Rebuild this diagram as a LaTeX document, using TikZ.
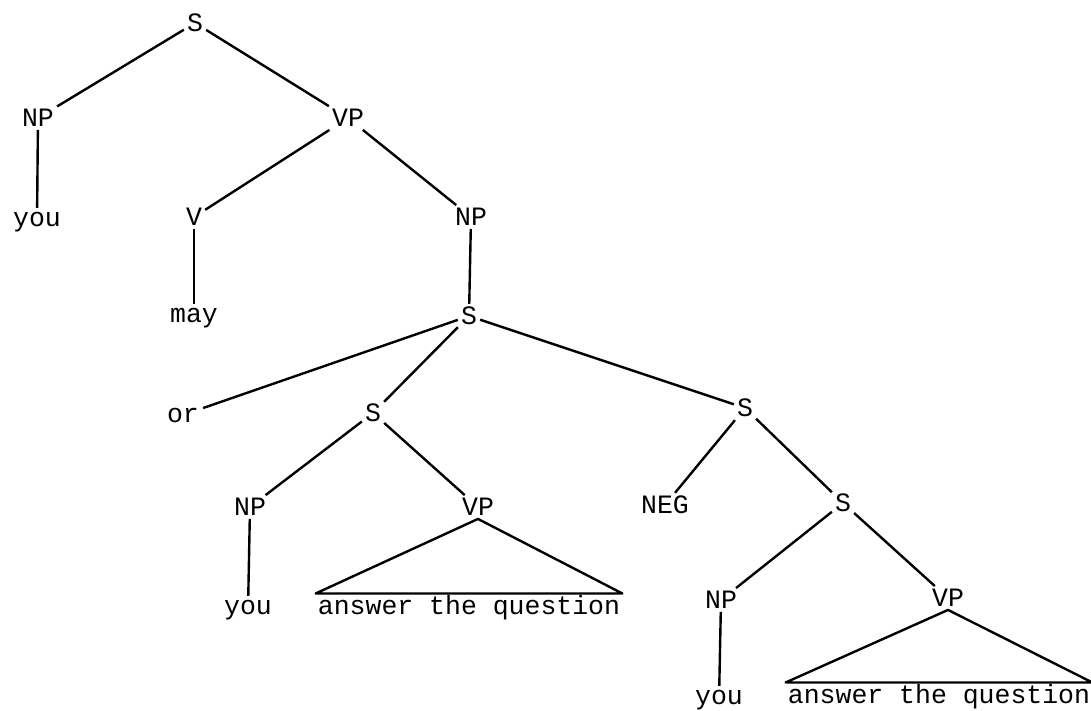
\documentclass[tikz,border=0pt]{standalone}
\usepackage{fontspec}
\setmonofont{Liberation Mono}
\usepackage{tikz}

\begin{document}
\begin{tikzpicture}[x=1pt, y=-1pt, line width=2.4pt,
    cat/.style = {inner sep=2pt, font=\ttfamily\fontsize{26.5}{30}\selectfont},
    word/.style = {cat, inner sep=3pt}]
    \useasboundingbox (0,0) rectangle (1091,711);
    \node[cat] (s0) at (195,23) {S};
    \node[cat] (np1) at (38,118) {NP};
    \node[cat] (vp1) at (348,118) {VP};
    \node[word] (you1) at (37,222) {you};
    \node[cat] (v1) at (194,217) {V};
    \node[cat] (np2) at (471,217) {NP};
    \node[word] (may) at (194,318) {may};
    \node[cat] (s2) at (469,316) {S};
    \node[word] (or) at (183,415) {or};
    \node[cat] (s3) at (373,413) {S};
    \node[cat] (s4) at (745,408) {S};
    \node[cat] (np3) at (250,507) {NP};
    \node[cat] (vp3) at (478,507) {VP};
    \node[cat] (neg) at (665,505) {NEG};
    \node[cat] (s5) at (843,503) {S};
    \node[word] (you3) at (248,610) {you};
    \node[word, inner sep=1pt] (ans3) at (469,608) {answer the question};
    \node[cat] (np4) at (721,600) {NP};
    \node[cat] (vp4) at (948,598) {VP};
    \node[word] (you4) at (719,700) {you};
    \node[word, inner sep=1pt] (ans4) at (939,697) {answer the question};

\draw (s0) -- (np1);
\draw (s0) -- (vp1);
\draw (np1) -- (you1);
\draw (vp1) -- (v1);
\draw (vp1) -- (np2);
\draw (v1) -- (may);
\draw (np2) -- (s2);
\draw (s2) -- (or);
\draw (s2) -- (s3);
\draw (s2) -- (s4);
\draw (s3) -- (np3);
\draw (s3) -- (vp3);
\draw (np3) -- (you3);
\draw (s4) -- (neg);
\draw (s4) -- (s5);
\draw (s5) -- (np4);
\draw (s5) -- (vp4);
\draw (np4) -- (you4);
% triangles over the unanalysed VPs
\draw[line join=round] (vp3.south) -- (ans3.north west) -- (ans3.north east) -- cycle;
\draw[line join=round] (vp4.south) -- (ans4.north west) -- (ans4.north east) -- cycle;
\end{tikzpicture}
\end{document}
